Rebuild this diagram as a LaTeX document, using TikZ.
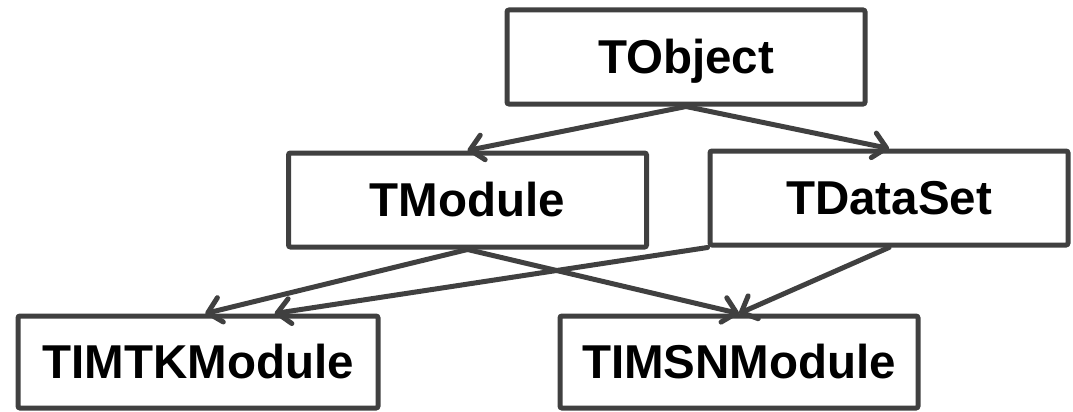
\documentclass[tikz,border=0pt]{standalone}
\usepackage{fontspec}
\setmainfont{Liberation Sans}
\usetikzlibrary{arrows.meta,calc}
\definecolor{edge}{HTML}{404040}
\begin{document}
\begin{tikzpicture}[x=1pt,y=1pt,
  cls/.style={draw=edge, line width=5pt, rounded corners=2pt, fill=white,
    minimum width=358pt, minimum height=94pt, inner sep=0pt,
    text height=33pt, text depth=0pt,
    font=\fontsize{47.5}{52}\selectfont\bfseries},
  inh/.style={draw=edge, line width=5pt, line cap=round,
    -{Straight Barb[length=13pt,width=25pt,line cap=round,line join=round]}}]
\useasboundingbox (0,0) rectangle (1073,-412);
\node[cls] (tobj) at (686,-57) {TObject};
\node[cls] (tmod) at (467.5,-200) {TModule};
\node[cls] (tds) at (889,-198) {TDataSet};
\node[cls, minimum width=360pt, minimum height=92pt] (timtk) at (198,-362) {TIMTKModule};
\node[cls, minimum height=92pt] (timsn) at (739,-362) {TIMSNModule};
\coordinate (tkA) at ($(timtk.north west)!0.52!(timtk.north east)$);
\coordinate (tkB) at ($(timtk.north west)!0.71!(timtk.north east)$);
\draw[inh] (tobj.south) -- (tmod.north);
\draw[inh] (tobj.south) -- (tds.north);
\draw[inh] (tmod.south) -- (tkA);
\draw[inh] (tmod.south) -- (timsn.north);
\draw[inh] (tds.south west) -- (tkB);
\draw[inh] (tds.south) -- (timsn.north);
\end{tikzpicture}
\end{document}
